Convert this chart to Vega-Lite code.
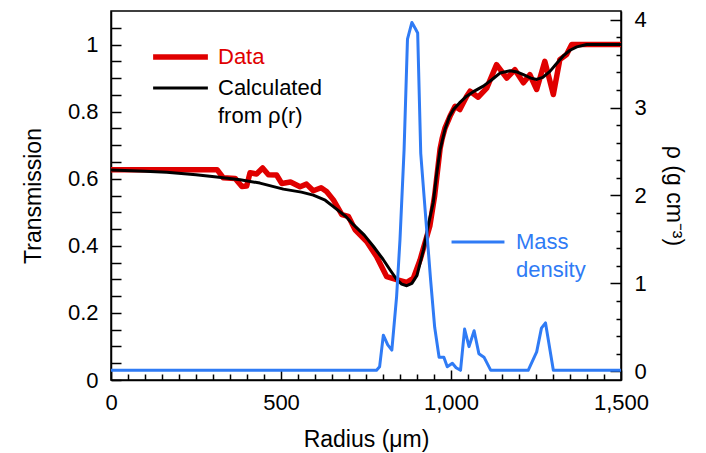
{
  "$schema": "https://vega.github.io/schema/vega-lite/v6.json",
  "width": 510,
  "height": 369,
  "autosize": {"type": "none"},
  "padding": {"left": 111, "top": 11, "right": 85, "bottom": 73},
  "background": "white",
  "config": {
    "font": "Liberation Sans",
    "view": {"stroke": "black", "strokeWidth": 1.5},
    "axis": {
      "domainColor": "black", "tickColor": "black", "labelColor": "black", "titleColor": "black",
      "labelFontSize": 22, "titleFontSize": 23, "titleFontWeight": "normal",
      "grid": false, "domainWidth": 1.5, "tickWidth": 1.5,
      "labelOverlap": false, "labelFlush": false, "labelBound": false
    },
    "legend": {"labelFontSize": 22, "labelFont": "Liberation Sans", "labelLimit": 400}
  },
  "datasets": {
    "trans": [
      {"series": "Data", "r": 0, "T": 0.627},
      {"series": "Data", "r": 100, "T": 0.627},
      {"series": "Data", "r": 200, "T": 0.627},
      {"series": "Data", "r": 312, "T": 0.627},
      {"series": "Data", "r": 330, "T": 0.603},
      {"series": "Data", "r": 365, "T": 0.601},
      {"series": "Data", "r": 385, "T": 0.577},
      {"series": "Data", "r": 399, "T": 0.578},
      {"series": "Data", "r": 409, "T": 0.618},
      {"series": "Data", "r": 428, "T": 0.614},
      {"series": "Data", "r": 446, "T": 0.632},
      {"series": "Data", "r": 463, "T": 0.612},
      {"series": "Data", "r": 487, "T": 0.611},
      {"series": "Data", "r": 502, "T": 0.586},
      {"series": "Data", "r": 528, "T": 0.59},
      {"series": "Data", "r": 556, "T": 0.576},
      {"series": "Data", "r": 575, "T": 0.584},
      {"series": "Data", "r": 595, "T": 0.564},
      {"series": "Data", "r": 618, "T": 0.573},
      {"series": "Data", "r": 634, "T": 0.562},
      {"series": "Data", "r": 654, "T": 0.537},
      {"series": "Data", "r": 679, "T": 0.493},
      {"series": "Data", "r": 698, "T": 0.488},
      {"series": "Data", "r": 718, "T": 0.448},
      {"series": "Data", "r": 752, "T": 0.413},
      {"series": "Data", "r": 781, "T": 0.368},
      {"series": "Data", "r": 811, "T": 0.308},
      {"series": "Data", "r": 840, "T": 0.299},
      {"series": "Data", "r": 870, "T": 0.291},
      {"series": "Data", "r": 889, "T": 0.303},
      {"series": "Data", "r": 909, "T": 0.358},
      {"series": "Data", "r": 938, "T": 0.46},
      {"series": "Data", "r": 952, "T": 0.55},
      {"series": "Data", "r": 968, "T": 0.69},
      {"series": "Data", "r": 974, "T": 0.72},
      {"series": "Data", "r": 982, "T": 0.75},
      {"series": "Data", "r": 997, "T": 0.786},
      {"series": "Data", "r": 1012, "T": 0.816},
      {"series": "Data", "r": 1026, "T": 0.806},
      {"series": "Data", "r": 1046, "T": 0.846},
      {"series": "Data", "r": 1056, "T": 0.861},
      {"series": "Data", "r": 1080, "T": 0.843},
      {"series": "Data", "r": 1105, "T": 0.87},
      {"series": "Data", "r": 1134, "T": 0.94},
      {"series": "Data", "r": 1164, "T": 0.9},
      {"series": "Data", "r": 1188, "T": 0.925},
      {"series": "Data", "r": 1213, "T": 0.886},
      {"series": "Data", "r": 1232, "T": 0.91},
      {"series": "Data", "r": 1252, "T": 0.866},
      {"series": "Data", "r": 1276, "T": 0.95},
      {"series": "Data", "r": 1301, "T": 0.851},
      {"series": "Data", "r": 1320, "T": 0.955},
      {"series": "Data", "r": 1340, "T": 0.97},
      {"series": "Data", "r": 1355, "T": 1.0},
      {"series": "Data", "r": 1420, "T": 1.0},
      {"series": "Data", "r": 1500, "T": 1.0},
      {"series": "Calculated", "r": 0, "T": 0.626},
      {"series": "Calculated", "r": 100, "T": 0.622},
      {"series": "Calculated", "r": 164, "T": 0.619},
      {"series": "Calculated", "r": 250, "T": 0.612},
      {"series": "Calculated", "r": 311, "T": 0.605},
      {"series": "Calculated", "r": 380, "T": 0.597},
      {"series": "Calculated", "r": 438, "T": 0.587},
      {"series": "Calculated", "r": 507, "T": 0.569},
      {"series": "Calculated", "r": 560, "T": 0.56},
      {"series": "Calculated", "r": 595, "T": 0.551},
      {"series": "Calculated", "r": 630, "T": 0.536},
      {"series": "Calculated", "r": 654, "T": 0.517},
      {"series": "Calculated", "r": 690, "T": 0.488},
      {"series": "Calculated", "r": 713, "T": 0.463},
      {"series": "Calculated", "r": 745, "T": 0.432},
      {"series": "Calculated", "r": 772, "T": 0.398},
      {"series": "Calculated", "r": 800, "T": 0.36},
      {"series": "Calculated", "r": 821, "T": 0.328},
      {"series": "Calculated", "r": 840, "T": 0.3},
      {"series": "Calculated", "r": 855, "T": 0.286},
      {"series": "Calculated", "r": 870, "T": 0.281},
      {"series": "Calculated", "r": 885, "T": 0.288},
      {"series": "Calculated", "r": 900, "T": 0.312},
      {"series": "Calculated", "r": 919, "T": 0.388},
      {"series": "Calculated", "r": 935, "T": 0.47},
      {"series": "Calculated", "r": 948, "T": 0.53},
      {"series": "Calculated", "r": 958, "T": 0.615},
      {"series": "Calculated", "r": 968, "T": 0.687},
      {"series": "Calculated", "r": 982, "T": 0.746},
      {"series": "Calculated", "r": 995, "T": 0.785},
      {"series": "Calculated", "r": 1007, "T": 0.806},
      {"series": "Calculated", "r": 1025, "T": 0.826},
      {"series": "Calculated", "r": 1046, "T": 0.846},
      {"series": "Calculated", "r": 1070, "T": 0.862},
      {"series": "Calculated", "r": 1095, "T": 0.876},
      {"series": "Calculated", "r": 1120, "T": 0.895},
      {"series": "Calculated", "r": 1144, "T": 0.915},
      {"series": "Calculated", "r": 1174, "T": 0.922},
      {"series": "Calculated", "r": 1195, "T": 0.918},
      {"series": "Calculated", "r": 1213, "T": 0.91},
      {"series": "Calculated", "r": 1235, "T": 0.9},
      {"series": "Calculated", "r": 1252, "T": 0.896},
      {"series": "Calculated", "r": 1270, "T": 0.902},
      {"series": "Calculated", "r": 1291, "T": 0.92},
      {"series": "Calculated", "r": 1310, "T": 0.943},
      {"series": "Calculated", "r": 1330, "T": 0.966},
      {"series": "Calculated", "r": 1350, "T": 0.983},
      {"series": "Calculated", "r": 1370, "T": 0.993},
      {"series": "Calculated", "r": 1399, "T": 1.0},
      {"series": "Calculated", "r": 1450, "T": 1.0},
      {"series": "Calculated", "r": 1500, "T": 1.0}
    ],
    "dens": [
      {"r": 0, "rho": 0.01},
      {"r": 400, "rho": 0.01},
      {"r": 781, "rho": 0.01},
      {"r": 790, "rho": 0.05},
      {"r": 801, "rho": 0.41},
      {"r": 814, "rho": 0.3},
      {"r": 826, "rho": 0.24},
      {"r": 840, "rho": 0.85},
      {"r": 850, "rho": 1.5},
      {"r": 862, "rho": 2.52},
      {"r": 872, "rho": 3.78},
      {"r": 885, "rho": 3.97},
      {"r": 895, "rho": 3.9},
      {"r": 902, "rho": 3.85},
      {"r": 911, "rho": 2.48},
      {"r": 921, "rho": 1.98},
      {"r": 940, "rho": 1.04},
      {"r": 952, "rho": 0.5},
      {"r": 965, "rho": 0.16},
      {"r": 979, "rho": 0.16},
      {"r": 989, "rho": 0.05},
      {"r": 1004, "rho": 0.09},
      {"r": 1015, "rho": 0.04},
      {"r": 1028, "rho": 0.01},
      {"r": 1040, "rho": 0.48},
      {"r": 1053, "rho": 0.28},
      {"r": 1068, "rho": 0.46},
      {"r": 1082, "rho": 0.2},
      {"r": 1097, "rho": 0.16},
      {"r": 1117, "rho": 0.01},
      {"r": 1227, "rho": 0.01},
      {"r": 1252, "rho": 0.22},
      {"r": 1266, "rho": 0.49},
      {"r": 1278, "rho": 0.55},
      {"r": 1301, "rho": 0.01},
      {"r": 1500, "rho": 0.01}
    ]
  },
  "encoding": {
    "x": {
      "field": "r", "type": "quantitative",
      "scale": {"domain": [0, 1500], "nice": false, "zero": false},
      "axis": {
        "title": "Radius (μm)",
        "values": [0,50,100,150,200,250,300,350,400,450,500,550,600,650,700,750,800,850,900,950,1000,1050,1100,1150,1200,1250,1300,1350,1400,1450,1500],
        "tickSize": {"condition": {"test": "datum.value % 500 === 0", "value": -10}, "value": -6},
        "labelPadding": 22,
        "labelOverlap": false,
        "labelFlush": false,
        "labelBound": false,
        "labelExpr": "datum.value % 500 === 0 ? format(datum.value, ',') : ''",
        "titlePadding": 11
      }
    }
  },
  "layer": [
    {
      "data": {"name": "trans"},
      "mark": {"type": "line", "strokeJoin": "round"},
      "encoding": {
        "y": {
          "field": "T", "type": "quantitative",
          "scale": {"domain": [0, 1.1], "nice": false},
          "axis": {
            "title": "Transmission",
            "values": [0,0.05,0.1,0.15,0.2,0.25,0.3,0.35,0.4,0.45,0.5,0.55,0.6,0.65,0.7,0.75,0.8,0.85,0.9,0.95,1,1.05],
            "tickSize": -10,
            "labelPadding": 23,
            "labelOverlap": false,
            "labelExpr": "abs(datum.value * 5 - round(datum.value * 5)) < 0.000001 ? format(datum.value, '.1~f') : ''",
            "titlePadding": 22
          }
        },
        "color": {
          "field": "series", "type": "nominal",
          "scale": {"domain": ["Data", "Calculated"], "range": ["#e00000", "#000000"]},
          "legend": {
            "orient": "none", "legendX": 39, "legendY": 30.5, "title": null,
            "symbolType": "stroke", "symbolSize": 3000, "labelOffset": 7, "rowPadding": 0,
            "clipHeight": 31,
            "labelExpr": "datum.value === 'Calculated' ? ['Calculated', 'from ρ(r)'] : datum.label",
            "encode": {
              "labels": {"update": {
                "fill": {"signal": "datum.value === 'Data' ? '#e00000' : '#000000'"},
                "lineHeight": {"value": 28}
              }},
              "symbols": {"update": {"strokeWidth": {"signal": "datum.value === 'Data' ? 5.5 : 3"}}}
            }
          }
        },
        "strokeWidth": {
          "field": "series", "type": "nominal",
          "scale": {"domain": ["Data", "Calculated"], "range": [5.5, 3]},
          "legend": null
        }
      }
    },
    {
      "data": {"name": "dens"},
      "mark": {"type": "line", "strokeWidth": 3, "strokeJoin": "round"},
      "encoding": {
        "y": {
          "field": "rho", "type": "quantitative",
          "scale": {"domain": [-0.1, 4.1], "nice": false, "zero": false},
          "axis": {
            "orient": "right",
            "title": "ρ (g cm⁻³)",
            "values": [0,0.2,0.4,0.6,0.8,1,1.2,1.4,1.6,1.8,2,2.2,2.4,2.6,2.8,3,3.2,3.4,3.6,3.8,4],
            "tickSize": {"condition": {"test": "abs(datum.value - round(datum.value)) < 0.000001", "value": -11}, "value": -5},
            "labelPadding": 24,
            "labelOverlap": false,
            "labelExpr": "abs(datum.value - round(datum.value)) < 0.000001 ? format(datum.value, 'd') : ''",
            "titlePadding": 15
          }
        },
        "color": {
          "datum": "Mass density", "type": "nominal",
          "scale": {"range": ["#2f7bf5"]},
          "legend": {
            "orient": "none", "legendX": 339, "legendY": 203, "title": null,
            "symbolType": "stroke", "symbolSize": 2800, "symbolStrokeWidth": 3, "labelOffset": 10,
            "labelColor": "#2f7bf5",
            "labelExpr": "['Mass', 'density']",
            "encode": {"labels": {"update": {"lineHeight": {"value": 28}}}}
          }
        }
      }
    }
  ],
  "resolve": {"scale": {"y": "independent", "color": "independent", "strokeWidth": "independent"}}
}
